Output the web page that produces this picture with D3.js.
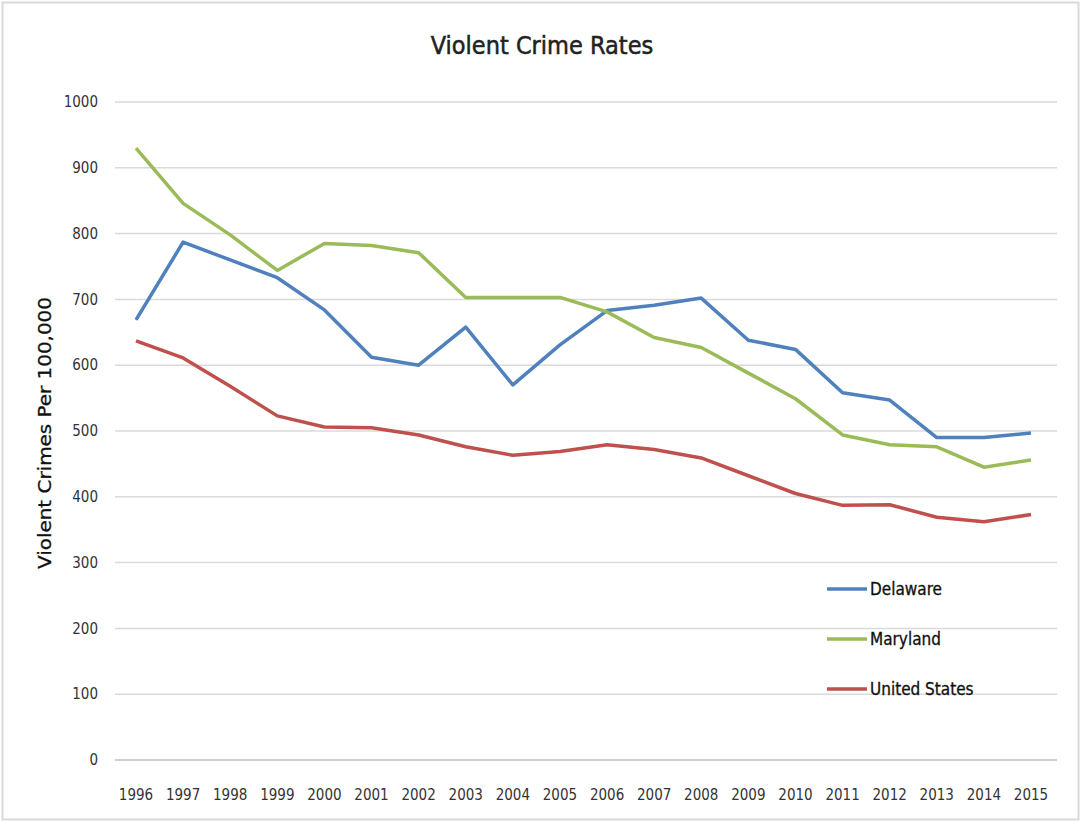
<!DOCTYPE html>
<html>
<head>
<meta charset="utf-8">
<script src="https://cdn.jsdelivr.net/npm/d3@7"></script>
<style>
  body { margin: 0; background: #fff; }
  svg { display: block; }
  .narrow { font-family: "Liberation Sans Narrow", "DejaVu Sans Condensed", sans-serif; }
</style>
</head>
<body>
<script>
const years = [1996, 1997, 1998, 1999, 2000, 2001, 2002, 2003, 2004, 2005,
               2006, 2007, 2008, 2009, 2010, 2011, 2012, 2013, 2014, 2015];
const delaware = [669, 787, 760, 733, 684, 612, 600, 658, 570, 631,
                  683, 691, 702, 638, 624, 558, 547, 490, 490, 497];
const maryland = [930, 846, 798, 744, 785, 782, 771, 703, 703, 703,
                  681, 642, 627, 588, 549, 494, 479, 476, 445, 456];
const unitedStates = [637, 611, 568, 523, 506, 505, 494, 476, 463, 469,
                      479, 472, 459, 432, 405, 387, 388, 369, 362, 373];
const yTicks = [0, 100, 200, 300, 400, 500, 600, 700, 800, 900, 1000];
const seriesNames = ["Delaware", "Maryland", "United States"];
const seriesColors = ["#4f81bd", "#9bbb59", "#c0504d"];

const width = 1081, height = 822;
const svg = d3.select("body").append("svg")
    .attr("width", width)
    .attr("height", height);

// outer frame like the screenshot
svg.append("rect")
    .attr("x", 2.5).attr("y", 2.5)
    .attr("width", width - 5).attr("height", height - 5)
    .attr("fill", "#fff")
    .attr("stroke", "#d9d9d9")
    .attr("stroke-width", 2);

const plot = { left: 115, right: 1057, top: 102, bottom: 760 };

const x = d3.scalePoint()
    .domain(years)
    .range([136, 1031]);

const y = d3.scaleLinear()
    .domain([0, 1000])
    .range([plot.bottom, plot.top]);

// gridlines
svg.append("g")
  .selectAll("line")
  .data(yTicks)
  .join("line")
    .attr("x1", plot.left)
    .attr("x2", plot.right)
    .attr("y1", d => y(d))
    .attr("y2", d => y(d))
    .attr("stroke", d => d === 0 ? "#cfcfcf" : "#dadada")
    .attr("stroke-width", d => d === 0 ? 2 : 1.5);

// y tick labels
svg.append("g")
  .selectAll("text")
  .data(yTicks)
  .join("text")
    .attr("class", "narrow")
    .attr("x", 98)
    .attr("y", d => y(d))
    .attr("dy", "0.35em")
    .attr("text-anchor", "end")
    .attr("font-size", 15)
    .attr("fill", "#333")
    .text(d => d);

// x tick labels
svg.append("g")
  .selectAll("text")
  .data(years)
  .join("text")
    .attr("class", "narrow")
    .attr("x", d => x(d))
    .attr("y", 800)
    .attr("text-anchor", "middle")
    .attr("font-size", 15)
    .attr("fill", "#333")
    .text(d => d);

// title
svg.append("text")
    .attr("class", "narrow")
    .attr("x", 542)
    .attr("y", 54)
    .attr("text-anchor", "middle")
    .attr("font-size", 25)
    .attr("fill", "#222")
    .attr("stroke", "#222")
    .attr("stroke-width", 0.5)
    .text("Violent Crime Rates");

// y axis title
svg.append("text")
    .attr("class", "narrow")
    .attr("transform", "translate(51,433) rotate(-90)")
    .attr("text-anchor", "middle")
    .attr("font-size", 17.5)
    .attr("fill", "#111")
    .attr("stroke", "#111")
    .attr("stroke-width", 0.3)
    .attr("textLength", 272)
    .attr("lengthAdjust", "spacingAndGlyphs")
    .text("Violent Crimes  Per 100,000");

const line = d3.line()
    .x((d, i) => x(years[i]))
    .y(d => y(d));

const allSeries = [delaware, maryland, unitedStates];

svg.append("g")
  .selectAll("path")
  .data(allSeries)
  .join("path")
    .attr("d", line)
    .attr("fill", "none")
    .attr("stroke", (d, i) => seriesColors[i])
    .attr("stroke-width", 3.5)
    .attr("stroke-linejoin", "round");

// legend
const legend = svg.append("g")
  .selectAll("g")
  .data(seriesNames)
  .join("g")
    .attr("transform", (d, i) => `translate(827,${589 + i * 50})`);

legend.append("line")
    .attr("x1", 0).attr("x2", 40)
    .attr("stroke", (d, i) => seriesColors[i])
    .attr("stroke-width", 3.5);

legend.append("text")
    .attr("class", "narrow")
    .attr("x", 43)
    .attr("dy", "0.35em")
    .attr("font-size", 17)
    .attr("fill", "#111")
    .attr("stroke", "#111")
    .attr("stroke-width", 0.3)
    .text(d => d);
</script>
</body>
</html>
